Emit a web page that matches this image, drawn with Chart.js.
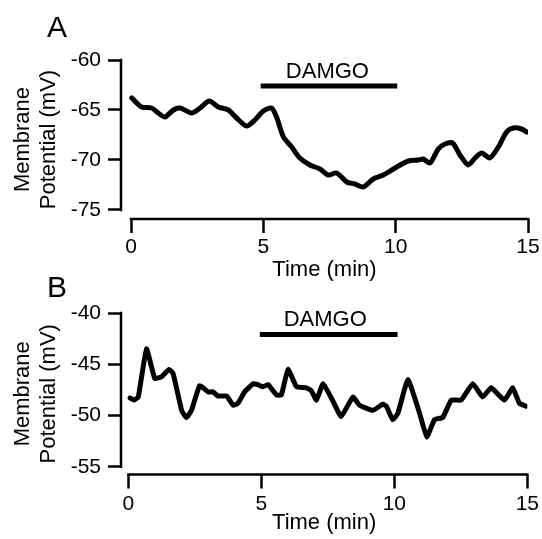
<!DOCTYPE html>
<html>
<head>
<meta charset="utf-8">
<script src="https://cdn.jsdelivr.net/npm/chart.js@4.4.1/dist/chart.umd.min.js"></script>
<style>
  html, body { margin: 0; padding: 0; background: #fff; }
  body { width: 542px; height: 539px; position: relative; overflow: hidden; }
  canvas { position: absolute; left: 0; }
  #panelA { top: 0; }
  #panelB { top: 270px; }
</style>
</head>
<body>
<canvas id="panelA" width="542" height="285"></canvas>
<canvas id="panelB" width="542" height="269"></canvas>
<script>
// shared axis ticks
const xTicks = [0, 5, 10, 15];
const yTicksA = [-75, -70, -65, -60];
const yTicksB = [-55, -50, -45, -40];

// panel A: membrane potential (mV) vs time (min)
const timeA = [0.03, 0.40, 0.78, 1.03, 1.28, 1.60, 1.85, 2.29, 2.61, 2.96, 3.30, 3.68, 3.99, 4.37, 4.68,
  5.00, 5.31, 5.50, 5.76, 6.07, 6.38, 6.76, 7.14, 7.45, 7.77, 8.15, 8.46, 8.78, 9.15, 9.53, 10.04,
  10.48, 10.85, 11.04, 11.30, 11.61, 11.86, 12.15, 12.43, 12.74, 13.00, 13.25, 13.56, 13.88, 14.19,
  14.44, 14.76, 14.95];
const vmA = [-63.8, -64.7, -64.8, -65.3, -65.7, -65.0, -64.8, -65.3, -64.8, -64.1, -64.7, -65.0, -65.8, -66.6, -66.0,
  -65.1, -64.8, -65.7, -67.7, -68.7, -69.8, -70.5, -70.9, -71.5, -71.3, -72.2, -72.4, -72.7, -71.9, -71.5, -70.7,
  -70.1, -70.0, -69.9, -70.3, -68.9, -68.4, -68.3, -69.5, -70.5, -69.8, -69.3, -69.8, -68.7, -67.2,
  -66.8, -66.9, -67.2];

// panel B
const timeB = [0.06, 0.21, 0.37, 0.68, 0.99, 1.25, 1.53, 1.68, 2.00, 2.18, 2.37, 2.68, 3.00, 3.18, 3.37, 3.69,
  3.94, 4.12, 4.37, 4.69, 4.87, 5.06, 5.25, 5.57, 5.75, 6.00, 6.32, 6.69, 6.88, 7.07, 7.32, 7.69, 8.00,
  8.44, 8.69, 9.19, 9.57, 9.70, 9.94, 10.13, 10.51, 10.95, 11.22, 11.51, 11.82, 12.14, 12.51, 12.95,
  13.32, 13.64, 14.14, 14.45, 14.70, 14.95];
const vmB = [-48.3, -48.5, -48.2, -43.5, -46.4, -46.2, -45.5, -45.9, -49.5, -50.2, -49.5, -47.1, -47.7, -47.7, -48.1, -48.1,
  -49.0, -48.8, -47.7, -46.9, -47.0, -47.2, -47.0, -48.0, -48.0, -45.5, -47.2, -47.3, -47.6, -48.5, -46.9, -48.6, -50.1,
  -48.2, -49.0, -49.5, -48.9, -49.1, -50.4, -49.8, -46.5, -49.8, -52.1, -50.4, -50.2, -48.5, -48.5, -46.9,
  -48.2, -47.3, -48.5, -47.3, -48.8, -49.1];

// DAMGO application bars [start, end] and level, label position
const damgoTimeA = [4.9, 10.06];
const damgoLevelA = -62.6;
const damgoTextA = [7.42, -61.15];
const damgoTimeB = [4.94, 10.12];
const damgoLevelB = -42.1;
const damgoTextB = [7.4, -40.65];

const FONT = '"Liberation Sans", Arial, Helvetica, sans-serif';

// draws offset axis lines, DAMGO label and panel letter
const decorPlugin = {
  id: 'decor',
  afterDraw(chart, args, opts) {
    const { ctx, chartArea, scales } = chart;
    const xs = scales.x, ys = scales.y;
    ctx.save();
    ctx.strokeStyle = '#000';
    ctx.lineWidth = 2.5;
    ctx.lineCap = 'square';
    ctx.beginPath();
    ctx.moveTo(chartArea.left, ys.getPixelForValue(opts.yRange[0]));
    ctx.lineTo(chartArea.left, ys.getPixelForValue(opts.yRange[1]));
    ctx.moveTo(xs.getPixelForValue(xTicks[0]), chartArea.bottom);
    ctx.lineTo(xs.getPixelForValue(xTicks[xTicks.length - 1]), chartArea.bottom);
    ctx.stroke();

    ctx.fillStyle = '#000';
    ctx.font = '22px ' + FONT;
    ctx.textAlign = 'center';
    ctx.textBaseline = 'middle';
    ctx.fillText('DAMGO', xs.getPixelForValue(opts.text[0]), ys.getPixelForValue(opts.text[1]));

    ctx.font = '30px ' + FONT;
    ctx.textAlign = 'left';
    ctx.textBaseline = 'alphabetic';
    ctx.fillText(opts.letter, 47, opts.letterY);
    ctx.restore();
  }
};

function makePanel(id, cfg) {
  const ctx = document.getElementById(id).getContext('2d');
  return new Chart(ctx, {
    type: 'line',
    data: {
      datasets: [{
        data: cfg.time.map((t, i) => ({ x: t, y: cfg.vm[i] })),
        borderColor: '#000',
        borderWidth: 5,
        pointRadius: 0,
        tension: cfg.tension,
        borderJoinStyle: 'round',
        borderCapStyle: 'round',
        fill: false
      }, {
        data: cfg.damgoTime.map(t => ({ x: t, y: cfg.damgoLevel })),
        borderColor: '#000',
        borderWidth: 5,
        pointRadius: 0,
        borderCapStyle: 'butt',
        fill: false
      }]
    },
    options: {
      responsive: false,
      animation: false,
      events: [],
      layout: { padding: { left: 0, top: cfg.padTop, right: 14, bottom: 0 } },
      plugins: {
        legend: { display: false },
        tooltip: { enabled: false },
        decor: { yRange: [cfg.yTicks[0], cfg.yTicks[cfg.yTicks.length - 1]], text: cfg.damgoText, letter: cfg.letter, letterY: cfg.letterY }
      },
      scales: {
        x: {
          type: 'linear',
          min: cfg.xMin,
          max: 15,
          afterFit: s => { s.height = cfg.xHeight; },
          afterBuildTicks: s => { s.ticks = xTicks.map(v => ({ value: v })); },
          grid: { drawOnChartArea: false, drawTicks: true, tickLength: 14, tickWidth: 2.5, tickColor: '#000' },
          border: { display: false },
          ticks: { color: '#000', padding: cfg.xPad, font: { family: FONT, size: 21 }, maxRotation: 0 },
          title: { display: true, text: 'Time (min)', color: '#000', font: { family: FONT, size: 22 }, padding: { top: 0, bottom: cfg.titlePad } }
        },
        y: {
          min: cfg.yMin,
          max: cfg.yTicks[cfg.yTicks.length - 1],
          afterFit: s => { s.width = 121; },
          afterBuildTicks: s => { s.ticks = cfg.yTicks.map(v => ({ value: v })); },
          grid: { drawOnChartArea: false, drawTicks: true, tickLength: 13, tickWidth: 2.5, tickColor: '#000' },
          border: { display: false },
          ticks: { color: '#000', padding: 7, font: { family: FONT, size: 21 } },
          title: { display: true, text: ['Membrane', 'Potential (mV)'], color: '#000', font: { family: FONT, size: 22, lineHeight: 1.18 }, padding: { top: 10, bottom: 0 } }
        }
      }
    },
    plugins: [decorPlugin]
  });
}

makePanel('panelA', {
  time: timeA, vm: vmA, damgoTime: damgoTimeA, damgoLevel: damgoLevelA, damgoText: damgoTextA,
  yTicks: yTicksA, yMin: -75.9, xMin: -0.378, padTop: 60, xHeight: 66, xPad: 2, titlePad: 2,
  letter: 'A', letterY: 37, tension: 0.25
});

makePanel('panelB', {
  time: timeB, vm: vmB, damgoTime: damgoTimeB, damgoLevel: damgoLevelB, damgoText: damgoTextB,
  yTicks: yTicksB, yMin: -55.76, xMin: -0.28, padTop: 43, xHeight: 64.5, xPad: 3, titlePad: 3,
  letter: 'B', letterY: 27, tension: 0.12
});
</script>
</body>
</html>
